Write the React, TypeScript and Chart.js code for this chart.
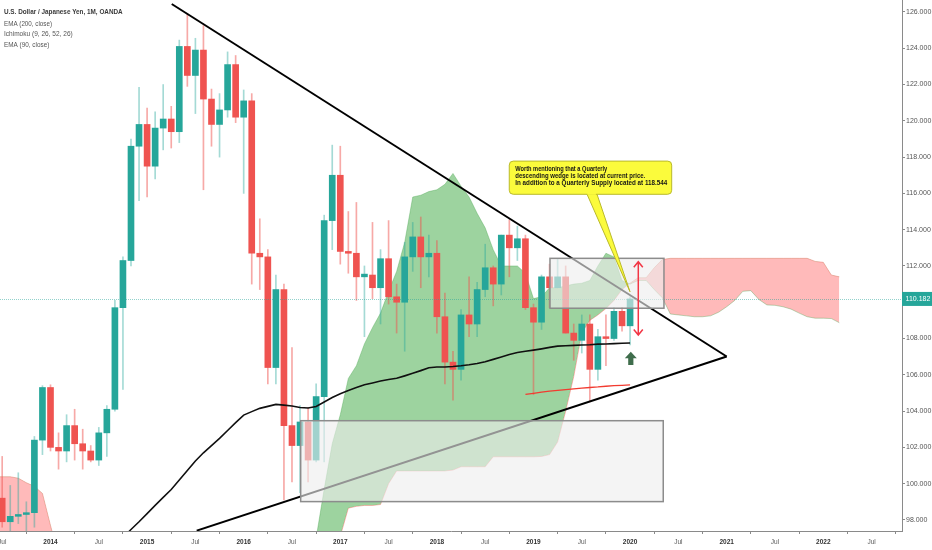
import { useEffect, useRef } from "react";
import { Chart, registerables } from "chart.js";

Chart.register(...registerables);

// one step per month, index 0 = Jul 2013
const opens = [
  99.2, 97.9, 98.2, 98.3, 98.4, 102.4, 105.3, 102.0, 101.8, 103.2,
  102.2, 101.8, 101.3, 102.8, 104.1, 109.7, 112.3, 118.6, 119.8, 117.5,
  119.6, 120.1, 119.4, 124.1, 122.5, 123.9, 121.2, 119.8, 120.6, 123.1,
  120.2, 121.1, 112.7, 112.5, 106.4, 110.7, 103.2, 102.1, 103.4, 101.3,
  104.8, 114.5, 117.0, 112.8, 112.7, 111.4, 111.5, 110.8, 112.4, 110.3,
  110.0, 112.5, 113.6, 112.5, 112.7, 109.2, 106.7, 106.3, 109.3, 108.8,
  110.7, 111.9, 111.0, 113.7, 113.0, 113.5, 109.7, 108.9, 111.4, 110.8,
  111.4, 108.3, 107.9, 108.8, 106.3, 108.1, 108.0, 109.5, 108.7,
];
const highs = [
  101.5, 99.9, 100.6, 99.0, 102.6, 105.4, 105.45, 102.8, 103.8, 104.1,
  103.0, 102.1, 103.1, 104.3, 110.1, 112.5, 119.0, 121.85, 120.7, 120.5,
  122.0, 120.8, 124.45, 125.9, 124.55, 125.25, 121.75, 121.5, 123.8, 123.6,
  121.7, 121.5, 114.6, 112.9, 111.5, 111.0, 107.5, 104.3, 104.2, 105.5,
  114.8, 118.66, 118.6, 115.0, 115.5, 112.0, 114.4, 112.9, 114.5, 111.0,
  113.3, 114.4, 114.7, 113.7, 113.4, 110.5, 107.3, 109.6, 111.4, 111.1,
  113.2, 112.0, 113.7, 114.55, 114.2, 113.7, 109.9, 111.5, 112.1, 112.4,
  112.0, 108.8, 109.3, 109.3, 108.5, 109.3, 109.7, 109.7, 110.3,
];
const lows = [
  97.6, 95.8, 97.8, 96.9, 97.6, 101.6, 101.8, 100.8, 101.2, 101.3,
  100.8, 101.2, 101.0, 101.5, 104.0, 105.2, 112.0, 115.6, 115.8, 116.8,
  118.4, 118.5, 118.8, 121.9, 120.4, 116.2, 118.6, 118.0, 120.2, 119.9,
  116.0, 111.0, 110.7, 105.5, 105.5, 99.1, 100.1, 99.5, 100.1, 101.2,
  101.2, 112.9, 112.1, 111.6, 110.1, 108.1, 110.2, 108.8, 109.9, 108.3,
  107.3, 111.7, 110.8, 111.4, 108.3, 105.5, 104.6, 105.7, 108.1, 108.1,
  110.3, 109.8, 110.4, 111.4, 112.3, 109.6, 104.9, 108.5, 109.7, 110.8,
  108.3, 106.8, 107.2, 104.5, 105.7, 106.5, 107.9, 108.4, 107.65,
];
const closes = [
  97.9, 98.2, 98.3, 98.4, 102.4, 105.3, 102.0, 101.8, 103.2, 102.2,
  101.8, 101.3, 102.8, 104.1, 109.7, 112.3, 118.6, 119.8, 117.5, 119.6,
  120.1, 119.4, 124.1, 122.5, 123.9, 121.2, 119.8, 120.6, 123.1, 120.2,
  121.1, 112.7, 112.5, 106.4, 110.7, 103.2, 102.1, 103.4, 101.3, 104.8,
  114.5, 117.0, 112.8, 112.7, 111.4, 111.55, 110.8, 112.4, 110.3, 110.0,
  112.5, 113.6, 112.5, 112.7, 109.2, 106.7, 106.3, 109.3, 108.8, 110.7,
  111.9, 111.0, 113.7, 113.0, 113.5, 109.7, 108.9, 111.4, 110.8, 111.4,
  108.3, 107.9, 108.8, 106.3, 108.1, 108.0, 109.5, 108.7, 110.18,
];

// black moving average, starts at month 15
const emaBlackStart = 15;
const emaBlack = [
  97.03, 97.47, 97.9, 98.35, 98.8, 99.24, 99.68, 100.2, 100.73, 101.25,
  101.7, 102.1, 102.5, 102.93, 103.36, 103.78, 103.97, 104.15, 104.26, 104.37,
  104.33, 104.28, 104.2, 104.17, 104.25, 104.5, 104.75, 104.96, 105.14, 105.3,
  105.45, 105.55, 105.66, 105.74, 105.81, 105.94, 106.08, 106.23, 106.39, 106.43,
  106.43, 106.46, 106.5, 106.55, 106.62, 106.72, 106.85, 106.98, 107.12, 107.23,
  107.3, 107.36, 107.43, 107.51, 107.58, 107.6, 107.62, 107.64, 107.66, 107.69,
  107.7, 107.72, 107.74, 107.75,
];
// red moving average, starts at month 65
const emaRedStart = 65;
const emaRed = [
  104.92, 104.98, 105.05, 105.1, 105.14, 105.18, 105.22, 105.26, 105.3, 105.33,
  105.37, 105.4, 105.42, 105.44,
];

// Ichimoku cloud, leading span A / B
const cloudLeftStart = -1;
const cloudLeftA = [95.5, 95.5, 95.5, 95.5, 95.5, 95.5, 95.5, 95.0, 94.5];
const cloudLeftB = [100.38, 100.38, 100.38, 100.3, 100.05, 99.85, 99.46, 97.7, 96.0];

const cloudRightStart = 38;
const cloudRightA = [
  95.0, 97.0, 99.7, 102.2, 103.8, 105.8, 106.5, 107.7, 108.6, 109.4,
  110.6, 111.7, 113.3, 115.8, 115.9, 116.1, 116.2, 116.5, 117.1, 116.4,
  115.8, 114.9, 114.1, 112.9, 112.0, 112.0, 112.0, 111.6, 110.2, 110.3,
  110.8, 110.8, 110.9, 111.0, 111.05, 111.2, 112.0, 112.7, 112.5, 111.2,
  111.0, 111.2, 111.2, 110.7, 110.25, 109.35, 109.3, 109.25, 109.2, 109.2,
  109.25, 109.45, 109.75, 110.1, 110.6, 110.64, 110.15, 109.85, 109.83, 109.75,
  109.62, 109.4, 109.2, 109.12, 109.12, 109.1, 108.87,
];
const cloudRightB = [
  93.0, 94.0, 95.0, 96.0, 97.1, 98.65, 98.75, 98.8, 98.8, 98.85,
  100.0, 100.7, 100.7, 100.7, 100.7, 100.7, 100.7, 100.7, 100.75, 100.93,
  100.93, 100.93, 100.93, 101.48, 101.48, 101.48, 101.48, 101.48, 101.48, 101.5,
  101.6, 102.3, 104.0, 105.9, 108.3, 109.0, 109.3, 109.65, 110.1, 110.7,
  111.05, 111.35, 111.35, 111.9, 112.35, 112.42, 112.42, 112.42, 112.42, 112.42,
  112.42, 112.42, 112.42, 112.42, 112.42, 112.42, 112.42, 112.42, 112.42, 112.42,
  112.42, 112.42, 112.42, 112.25, 112.2, 111.5, 111.4,
];

const yTicks = [98, 100, 102, 104, 106, 108, 110, 112, 114, 116, 118, 120, 122, 124, 126];
const xTickMonths = [0, 6, 12, 18, 24, 30, 36, 42, 48, 54, 60, 66, 72, 78, 84, 90, 96, 102, 108];
const lastPrice = 110.182;

const legendLines = [
  "U.S. Dollar / Japanese Yen, 1M, OANDA",
  "EMA (200, close)",
  "Ichimoku (9, 26, 52, 26)",
  "EMA (90, close)",
];
const noteLines = [
  "Worth mentioning that a Quarterly",
  "descending wedge is located at current price.",
  "In addition to a Quarterly Supply located at 118.544",
];

// drawings, in (month index, price)
const wedgeUpper = [{ x: 21.06, y: 126.44 }, { x: 90.0, y: 107.01 }];
const wedgeLower = [{ x: 24.16, y: 97.41 }, { x: 90.0, y: 107.01 }];
const supplyBox = { x0: 68.05, x1: 82.21, y0: 112.42, y1: 109.67 };
const demandBox = { x0: 37.08, x1: 82.12, y0: 103.47, y1: 99.01 };
const note = { x0: 62.99, x1: 83.17, y0: 117.78, y1: 115.95, tailX0: 72.6, tailX1: 73.85, tipX: 77.99, tipY: 110.58 };
const rangeArrow = { x: 79.02, y0: 112.23, y1: 108.19 };
const upArrow = { x: 78.09, y0: 107.27, y1: 106.54 };

const X_MIN = -0.273;
const X_MAX = 111.78;
const Y_MIN = 97.39;
const Y_MAX = 126.66;

const GREEN = "#26a69a";
const RED = "#ef5350";
const FONT = '"Liberation Sans", Arial, sans-serif';

const monthLabel = (i: number) => {
  const m = (i + 6) % 12;
  return m === 0 ? String(2013 + (i + 6) / 12) : "Jul";
};

const toPoints = (start: number, values: number[]) => values.map((v, k) => ({ x: start + k, y: v }));

function fitText(ctx: CanvasRenderingContext2D, text: string, x: number, y: number, width: number, font: string, color: string) {
  ctx.save();
  ctx.font = font;
  ctx.fillStyle = color;
  ctx.textBaseline = "middle";
  ctx.textAlign = "left";
  const w = ctx.measureText(text).width;
  ctx.translate(x, y);
  ctx.scale(width / w, 1);
  ctx.fillText(text, 0, 0);
  ctx.restore();
}

const drawings = {
  id: "drawings",
  afterDatasetsDraw(chart: any) {
    const { ctx, chartArea: a, scales } = chart;
    const px = (v: number) => scales.x.getPixelForValue(v);
    const py = (v: number) => scales.y.getPixelForValue(v);
    ctx.save();
    ctx.beginPath();
    ctx.rect(a.left, a.top, a.right - a.left, a.bottom - a.top);
    ctx.clip();

    // last price line
    const lp = Math.round(py(lastPrice)) + 0.5;
    ctx.strokeStyle = "rgba(38,166,154,0.5)";
    ctx.lineWidth = 1;
    ctx.setLineDash([1, 1]);
    ctx.beginPath();
    ctx.moveTo(a.left, lp);
    ctx.lineTo(a.right, lp);
    ctx.stroke();
    ctx.setLineDash([]);

    // rectangles
    for (const b of [demandBox, supplyBox]) {
      const l = px(b.x0), r = px(b.x1), t = py(b.y0), bt = py(b.y1);
      ctx.fillStyle = "rgba(238,238,238,0.62)";
      ctx.fillRect(l, t, r - l, bt - t);
      ctx.strokeStyle = "#8c8c8c";
      ctx.lineWidth = 1.5;
      ctx.strokeRect(l, t, r - l, bt - t);
    }

    // callout
    const nl = px(note.x0), nr = px(note.x1), nt = py(note.y0), nb = py(note.y1);
    ctx.fillStyle = "#fbfb3c";
    ctx.strokeStyle = "#b9b92a";
    ctx.lineWidth = 1;
    ctx.beginPath();
    ctx.moveTo(px(note.tailX0), nb - 1);
    ctx.lineTo(px(note.tipX), py(note.tipY));
    ctx.lineTo(px(note.tailX1), nb - 1);
    ctx.closePath();
    ctx.fill();
    ctx.stroke();
    ctx.beginPath();
    ctx.roundRect(nl, nt, nr - nl, nb - nt, 4);
    ctx.fill();
    ctx.stroke();
    ctx.fillStyle = "#fbfb3c";
    ctx.fillRect(px(note.tailX0) + 0.8, nb - 2, px(note.tailX1) - px(note.tailX0) - 1.6, 2.5);
    const widths = [92, 130, 152];
    noteLines.forEach((line, k) => {
      fitText(ctx, line, nl + 6, nt + 8.3 + k * 7, widths[k], `bold 6.5px ${FONT}`, "#151515");
    });

    // red range arrow
    const ax = px(rangeArrow.x), ay0 = py(rangeArrow.y0), ay1 = py(rangeArrow.y1);
    ctx.strokeStyle = "#f23645";
    ctx.lineWidth = 1.5;
    ctx.beginPath();
    ctx.moveTo(ax, ay0);
    ctx.lineTo(ax, ay1);
    ctx.moveTo(ax - 4.5, ay0 + 5.5);
    ctx.lineTo(ax, ay0);
    ctx.lineTo(ax + 4.5, ay0 + 5.5);
    ctx.moveTo(ax - 4.5, ay1 - 5.5);
    ctx.lineTo(ax, ay1);
    ctx.lineTo(ax + 4.5, ay1 - 5.5);
    ctx.stroke();

    // green up arrow
    const gx = px(upArrow.x), gt = py(upArrow.y0), gb = py(upArrow.y1);
    ctx.fillStyle = "#3f6d4c";
    ctx.beginPath();
    ctx.moveTo(gx, gt);
    ctx.lineTo(gx + 6, gt + 6.5);
    ctx.lineTo(gx + 2.6, gt + 6.5);
    ctx.lineTo(gx + 2.6, gb);
    ctx.lineTo(gx - 2.6, gb);
    ctx.lineTo(gx - 2.6, gt + 6.5);
    ctx.lineTo(gx - 6, gt + 6.5);
    ctx.closePath();
    ctx.fill();
    ctx.restore();
  },
  afterDraw(chart: any) {
    const { ctx, chartArea: a, scales } = chart;
    // price label on the axis
    const lp = scales.y.getPixelForValue(lastPrice);
    ctx.save();
    ctx.fillStyle = GREEN;
    ctx.fillRect(a.right, lp - 7, chart.width - a.right, 14);
    ctx.fillStyle = "#ffffff";
    ctx.font = `7px ${FONT}`;
    ctx.textAlign = "center";
    ctx.textBaseline = "middle";
    ctx.fillText(lastPrice.toFixed(3), a.right + (chart.width - a.right) / 2 + 1, lp + 0.5);
    ctx.restore();

    // legend
    const widths = [118.7, 48, 68.7, 45.3];
    const ys = [12, 23.6, 34.2, 44.7];
    legendLines.forEach((line, k) => {
      fitText(ctx, line, 4, ys[k], widths[k], `${k === 0 ? "600 " : ""}8px ${FONT}`, k === 0 ? "#3a3a3a" : "#555555");
    });
  },
};

export default function App() {
  const canvasRef = useRef<HTMLCanvasElement>(null);

  useEffect(() => {
    document.body.style.margin = "0";
    const canvas = canvasRef.current;
    if (!canvas) return;

    const idx = opens.map((_, i) => i);
    const up = idx.filter((i) => closes[i] >= opens[i]);
    const down = idx.filter((i) => closes[i] < opens[i]);
    const body = (i: number) => {
      const lo = Math.min(opens[i], closes[i]);
      const hi = Math.max(opens[i], closes[i]);
      return { x: i, y: [lo, Math.max(hi, lo + 0.07)] };
    };
    const wick = (i: number) => ({ x: i, y: [lows[i], highs[i]] });

    const line = (data: any[], color: string, width: number) => ({
      type: "line",
      data,
      borderColor: color,
      borderWidth: width,
      pointRadius: 0,
      tension: 0,
      fill: false,
      clip: 0,
    });
    const bar = (data: any[], color: string, thickness: number) => ({
      type: "bar",
      data,
      backgroundColor: color,
      borderWidth: 0,
      barThickness: thickness,
      grouped: false,
      clip: 0,
    });

    const datasets: any[] = [
      line(wedgeUpper, "#000000", 2), // 0
      line(wedgeLower, "#000000", 2), // 1
      line(toPoints(emaBlackStart, emaBlack), "#101010", 1.6), // 2
      line(toPoints(emaRedStart, emaRed), "#f23b30", 1.3), // 3
      bar(up.map(body), GREEN, 6), // 4
      bar(down.map(body), RED, 6), // 5
      bar(up.map(wick), "rgba(38,166,154,0.42)", 1), // 6
      bar(down.map(wick), "rgba(239,83,80,0.5)", 1), // 7
      {
        ...line(toPoints(cloudLeftStart, cloudLeftA), "rgba(67,160,71,0.35)", 1),
        fill: { target: 9, above: "rgba(76,175,80,0.55)", below: "rgba(255,82,82,0.4)" },
      }, // 8
      line(toPoints(cloudLeftStart, cloudLeftB), "rgba(244,67,54,0.35)", 1), // 9
      {
        ...line(toPoints(cloudRightStart, cloudRightA), "rgba(67,160,71,0.35)", 1),
        fill: { target: 11, above: "rgba(76,175,80,0.55)", below: "rgba(255,82,82,0.4)" },
      }, // 10
      line(toPoints(cloudRightStart, cloudRightB), "rgba(244,67,54,0.35)", 1), // 11
    ];

    Chart.defaults.font.family = FONT;

    const chart = new Chart(canvas, {
      type: "bar",
      data: { datasets },
      options: {
        animation: false,
        responsive: false,
        maintainAspectRatio: false,
        events: [],
        layout: { padding: 0 },
        plugins: { legend: { display: false }, tooltip: { enabled: false } },
        scales: {
          x: {
            type: "linear",
            min: X_MIN,
            max: X_MAX,
            offset: false,
            grid: { display: true, drawOnChartArea: false, drawTicks: true, tickLength: 3, color: "#8a8a8a" },
            border: { display: true, color: "#8a8a8a" },
            ticks: {
              autoSkip: false,
              maxRotation: 0,
              minRotation: 0,
              padding: 4,
              color: (c: any) => ((c.tick && monthLabel(c.tick.value) !== "Jul") ? "#333333" : "#5a5a5a"),
              font: (c: any) => ({
                size: 6.5,
                weight: c.tick && monthLabel(c.tick.value) !== "Jul" ? "bold" : "normal",
              }),
              callback: (v: any) => monthLabel(Number(v)),
            },
            afterBuildTicks: (s: any) => {
              s.ticks = xTickMonths.map((value) => ({ value }));
            },
            afterFit: (s: any) => {
              s.height = 19;
              s.paddingLeft = 0;
              s.paddingRight = 0;
            },
          },
          y: {
            type: "linear",
            position: "right",
            min: Y_MIN,
            max: Y_MAX,
            grid: { display: true, drawOnChartArea: false, drawTicks: true, tickLength: 3, color: "#8a8a8a" },
            border: { display: true, color: "#8a8a8a" },
            ticks: {
              padding: 1,
              color: "#555555",
              font: { size: 7 },
              callback: (v: any) => Number(v).toFixed(3),
            },
            afterBuildTicks: (s: any) => {
              s.ticks = yTicks.map((value) => ({ value }));
            },
            afterFit: (s: any) => {
              s.width = 30;
              s.paddingTop = 0;
              s.paddingBottom = 0;
            },
          },
        },
      } as any,
      plugins: [drawings],
    });

    return () => chart.destroy();
  }, []);

  return (
    <div style={{ width: 932, height: 550, position: "relative", background: "#ffffff" }}>
      <canvas ref={canvasRef} width={932} height={550} style={{ display: "block" }} />
    </div>
  );
}
